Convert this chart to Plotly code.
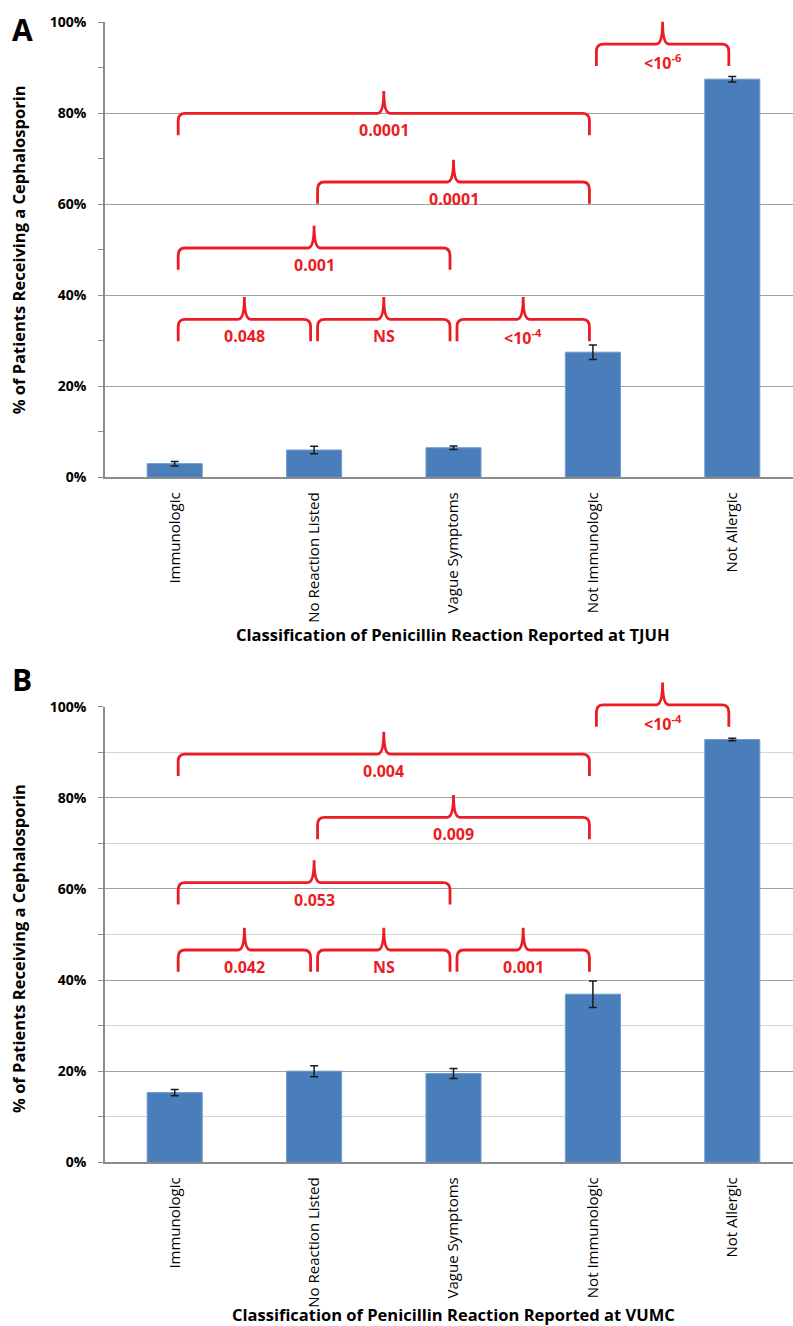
import plotly.graph_objects as go

W, H = 793, 1326

categories = ["Immunologic", "No Reaction Listed", "Vague Symptoms", "Not Immunologic", "Not Allergic"]

# Panel A (TJUH)
a_values = [3.0, 6.0, 6.5, 27.5, 87.5]
a_errors = [0.5, 0.8, 0.4, 1.6, 0.6]
a_brace_from = [0, 1, 2, 0, 1, 0, 3]
a_brace_to = [1, 2, 3, 2, 3, 3, 4]
a_brace_level = [34.7, 34.7, 34.7, 50.4, 64.9, 80.0, 95.2]
a_brace_label = ["0.048", "NS", "<10<sup>-4</sup>", "0.001", "0.0001", "0.0001", "<10<sup>-6</sup>"]

# Panel B (VUMC)
b_values = [15.3, 20.0, 19.5, 36.9, 92.8]
b_errors = [0.7, 1.2, 1.1, 2.9, 0.3]
b_brace_from = [0, 1, 2, 0, 1, 0, 3]
b_brace_to = [1, 2, 3, 2, 3, 3, 4]
b_brace_level = [46.6, 46.6, 46.6, 61.4, 75.7, 89.6, 100.4]
b_brace_label = ["0.042", "NS", "0.001", "0.053", "0.009", "0.004", "<10<sup>-4</sup>"]

y_ticks = [0, 20, 40, 60, 80, 100]
y_tick_text = ["0%", "20%", "40%", "60%", "80%", "100%"]
y_max = 100

RED = "#EC1C24"
BLUE = "#4A7EBB"
GRID = "#A0A0A0"
FONT = "Open Sans"

# layout geometry (pixels)
left_px = 105
a_top, a_bot = 22.3, 477.3
b_top, b_bot = 706.7, 1162.3
cat_px = 139.4


def py(p):
    return 1 - p / H


def px(p):
    return p / W


x_right = -0.5 + (W - left_px) / cat_px

fig = go.Figure()

for i, (vals, errs) in enumerate([(a_values, a_errors), (b_values, b_errors)]):
    sx = "x" if i == 0 else "x2"
    sy = "y" if i == 0 else "y2"
    fig.add_trace(go.Bar(
        x=list(range(len(categories))), y=vals, xaxis=sx, yaxis=sy,
        width=0.395,
        marker=dict(color=BLUE, line=dict(color="#6D9BD0", width=1)),
        error_y=dict(type="data", array=errs, visible=True, color="#1a1a1a",
                     thickness=1.5, width=4),
        showlegend=False, hoverinfo="skip",
    ))

DP, DE = 4.9, 4.8    # cusp height and end drop (% units)
RX, RY = 0.05, 1.6   # corner rounding
CW = 0.045           # cusp half width
INSET = 0.025

shapes = []
annotations = []


def brace(xref, yref, a, b, h):
    x0 = a + INSET
    x1 = b - INSET
    xm = (a + b) / 2
    f = lambda v: v / y_max
    d = (f"M {x0},{f(h-DE)} L {x0},{f(h-RY)} Q {x0},{f(h)} {x0+RX},{f(h)} "
         f"L {xm-CW},{f(h)} Q {xm},{f(h)} {xm},{f(h+DP)} "
         f"Q {xm},{f(h)} {xm+CW},{f(h)} "
         f"L {x1-RX},{f(h)} Q {x1},{f(h)} {x1},{f(h-RY)} L {x1},{f(h-DE)}")
    return dict(type="path", path=d, xref=xref, yref=yref,
                line=dict(color=RED, width=2.8), layer="above")


for i, (fr, to, lv, lb) in enumerate([
        (a_brace_from, a_brace_to, a_brace_level, a_brace_label),
        (b_brace_from, b_brace_to, b_brace_level, b_brace_label)]):
    sx = "x" if i == 0 else "x2"
    sy = "y" if i == 0 else "y2"
    for a, b, h, t in zip(fr, to, lv, lb):
        shapes.append(brace(sx, sy + " domain", a, b, h))
        annotations.append(dict(
            x=(a + b) / 2, y=h / y_max, xref=sx, yref=sy + " domain",
            text=f"<b>{t}</b>", showarrow=False, xanchor="center", yanchor="top", yshift=-4,
            font=dict(family=FONT, size=16, color=RED)))


def ann(x, y, text, size, angle=0):
    return dict(x=px(x), y=py(y), xref="paper", yref="paper", text=text,
                textangle=angle, showarrow=False, xanchor="center", yanchor="middle",
                font=dict(family=FONT, size=size, color="black"))


annotations += [
    ann(22, 29, "<b>A</b>", 30),
    ann(22, 679, "<b>B</b>", 30),
    ann(18.5, (a_top + a_bot) / 2, "<b>% of Patients Receiving a Cephalosporin</b>", 16.5, -90),
    ann(18.5, (b_top + b_bot) / 2 + 14, "<b>% of Patients Receiving a Cephalosporin</b>", 16.5, -90),
    ann(453, 634, "<b>Classification of Penicillin Reaction Reported at TJUH</b>", 16.5),
    ann(453, 1314, "<b>Classification of Penicillin Reaction Reported at VUMC</b>", 16.5),
]

xax = dict(domain=[px(left_px), 1], range=[-0.5, x_right], automargin=False,
           tickmode="array", tickvals=list(range(len(categories))), ticktext=categories,
           tickangle=-90, showgrid=False, showline=True, linecolor="#8C8C8C", linewidth=2,
           ticks="", tickfont=dict(family=FONT, size=15, color="black"),
           ticklabelstandoff=7, zeroline=False, fixedrange=True)


def yax(dom, minor_grid):
    return dict(domain=dom, range=[0, y_max], automargin=False,
                tickmode="array", tickvals=y_ticks, ticktext=y_tick_text,
                showgrid=True, gridcolor=GRID, gridwidth=1.4,
                showline=True, linecolor="#8C8C8C", linewidth=1.5,
                ticks="outside", ticklen=5, tickcolor="#8C8C8C", tickwidth=1.2,
                minor=dict(dtick=10, tick0=0, ticks="outside", ticklen=5, tickcolor="#8C8C8C",
                           showgrid=minor_grid, gridcolor="#D4D4D4", gridwidth=1),
                tickfont=dict(family=FONT, size=14, color="black", weight="bold"),
                ticklabelstandoff=9, zeroline=False, fixedrange=True)


fig.update_layout(
    width=W, height=H, margin=dict(l=0, r=0, t=0, b=0, autoexpand=False),
    paper_bgcolor="white", plot_bgcolor="white",
    xaxis=dict(xax, anchor="y"),
    xaxis2=dict(xax, anchor="y2"),
    yaxis=dict(yax([py(a_bot), py(a_top)], False), anchor="x"),
    yaxis2=dict(yax([py(b_bot), py(b_top)], True), anchor="x2"),
    shapes=shapes, annotations=annotations,
)

fig.write_html("out.html", config={"displayModeBar": False},
               post_script="document.body.style.margin='0';")
